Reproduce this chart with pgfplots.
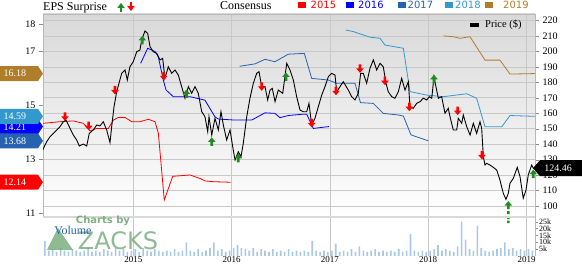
\documentclass[border=0pt]{standalone}
\usepackage{pgfplots}
\pgfplotsset{compat=1.18}
\usepackage{fontspec}
\setmainfont{Liberation Serif}
\newfontfamily\legfont{DejaVu Sans}
\definecolor{cA}{HTML}{FF0000}
\definecolor{cB}{HTML}{0000FF}
\definecolor{cC}{HTML}{2563B0}
\definecolor{cD}{HTML}{3399CC}
\definecolor{cE}{HTML}{B07D2B}
\definecolor{upg}{HTML}{1E8C1E}
\definecolor{vol}{HTML}{A9C8E8}
\definecolor{grd}{HTML}{C8C8C8}
\definecolor{zk}{HTML}{5E9E63}
\pgfdeclareplotmark{dnarr}{%
 \pgfpathmoveto{\pgfqpoint{-1.3pt}{5pt}}%
 \pgfpathlineto{\pgfqpoint{1.3pt}{5pt}}%
 \pgfpathlineto{\pgfqpoint{1.3pt}{1pt}}%
 \pgfpathlineto{\pgfqpoint{3.8pt}{1pt}}%
 \pgfpathlineto{\pgfqpoint{0pt}{-3.5pt}}%
 \pgfpathlineto{\pgfqpoint{-3.8pt}{1pt}}%
 \pgfpathlineto{\pgfqpoint{-1.3pt}{1pt}}%
 \pgfpathclose\pgfusepathqfill}
\pgfdeclareplotmark{uparr}{%
 \pgfpathmoveto{\pgfqpoint{-1.3pt}{-5pt}}%
 \pgfpathlineto{\pgfqpoint{1.3pt}{-5pt}}%
 \pgfpathlineto{\pgfqpoint{1.3pt}{-1pt}}%
 \pgfpathlineto{\pgfqpoint{3.8pt}{-1pt}}%
 \pgfpathlineto{\pgfqpoint{0pt}{3.5pt}}%
 \pgfpathlineto{\pgfqpoint{-3.8pt}{-1pt}}%
 \pgfpathlineto{\pgfqpoint{-1.3pt}{-1pt}}%
 \pgfpathclose\pgfusepathqfill}
\pgfdeclareplotmark{uparrdash}{%
 \pgfpathmoveto{\pgfqpoint{0pt}{0pt}}%
 \pgfpathlineto{\pgfqpoint{3.8pt}{-4.5pt}}%
 \pgfpathlineto{\pgfqpoint{-3.8pt}{-4.5pt}}%
 \pgfpathclose
 \pgfpathrectangle{\pgfqpoint{-1.3pt}{-8pt}}{\pgfqpoint{2.6pt}{3.5pt}}%
 \pgfpathrectangle{\pgfqpoint{-1.3pt}{-13pt}}{\pgfqpoint{2.6pt}{3pt}}%
 \pgfpathrectangle{\pgfqpoint{-1.3pt}{-18pt}}{\pgfqpoint{2.6pt}{3pt}}%
 \pgfpathrectangle{\pgfqpoint{-1.3pt}{-22pt}}{\pgfqpoint{2.6pt}{2.5pt}}%
 \pgfusepathqfill}
\pgfplotsset{base/.style={scale only axis, width=492pt, height=203pt, at={(43pt,47pt)}, anchor=south west, xmin=2014.0814, xmax=2019.0865, /pgf/number format/assume math mode=true}}
\begin{document}
\begin{tikzpicture}[x=1pt,y=1pt]
\useasboundingbox (0,0) rectangle (582,264);
% background, grid, price ticks
\begin{axis}[base, ymin=92.9, ymax=224.2,
 axis background/.style={top color=black!15, bottom color=white},
 axis line style={draw=black!28},
 ytick={100,110,...,220}, ytick pos=right, yticklabel pos=right,
 xtick={2015,2016,2017,2018,2019}, xticklabels={},
 xmajorgrids, ymajorgrids, major grid style={grd, line width=0.7pt},
 xtick style={draw=none}, ytick style={black!45},
 tick align=outside, major tick length=4pt,
 yticklabel style={font=\fontsize{10}{10}\selectfont}]
\end{axis}
% EPS consensus lines
\begin{axis}[base, ymin=10.848, ymax=18.394, axis x line=none, axis y line*=left,
 axis line style={draw=none}, ytick={11,13,15,17,18}, tick align=outside, major tick length=4pt,
 ytick style={black!45}, yticklabel style={font=\fontsize{10}{10}\selectfont}, clip mode=individual]
\addplot[cA, line width=0.8pt] coordinates {(2014.0814,14.33)(2014.254,14.39)(2014.390,14.42)(2014.491,14.33)(2014.560,14.05)(2014.628,14.14)(2014.746,14.14)(2014.797,14.45)(2014.848,14.55)(2014.916,14.55)(2014.984,14.39)(2015.068,14.39)(2015.153,14.48)(2015.221,14.39)(2015.255,13.96)(2015.315,11.48)(2015.401,12.36)(2015.577,12.41)(2015.679,12.28)(2015.729,12.19)(2015.814,12.16)(2015.991,12.14)};
\addplot[cB, line width=0.8pt] coordinates {(2015.075,16.56)(2015.146,17.12)(2015.221,17.00)(2015.254,16.81)(2015.305,15.94)(2015.333,15.57)(2015.407,15.32)(2015.577,15.32)(2015.729,15.19)(2015.831,14.57)(2015.865,14.49)(2016.035,14.45)(2016.204,14.45)(2016.340,14.72)(2016.441,14.70)(2016.492,14.54)(2016.577,14.62)(2016.729,14.67)(2016.764,14.67)(2016.831,14.14)(2016.991,14.21)};
\addplot[cC, line width=0.8pt] coordinates {(2016.081,16.45)(2016.238,16.54)(2016.340,16.71)(2016.441,16.62)(2016.577,16.90)(2016.740,16.93)(2016.815,16.00)(2016.984,15.94)(2017.069,15.82)(2017.255,15.82)(2017.311,15.10)(2017.442,15.07)(2017.543,14.70)(2017.696,14.64)(2017.747,14.60)(2017.825,13.90)(2018.001,13.68)};
\addplot[cD, line width=0.8pt] coordinates {(2017.161,17.80)(2017.238,17.74)(2017.408,17.53)(2017.510,17.49)(2017.560,17.24)(2017.747,17.12)(2017.815,15.51)(2017.985,15.38)(2018.154,15.32)(2018.392,15.43)(2018.493,15.26)(2018.578,14.20)(2018.748,14.20)(2018.832,14.62)(2019.0865,14.59)};
\addplot[cE, line width=0.8pt] coordinates {(2018.154,17.58)(2018.255,17.55)(2018.323,17.49)(2018.425,17.55)(2018.578,16.68)(2018.730,16.68)(2018.832,16.16)(2019.0865,16.18)};
\coordinate (tE) at (axis cs:2014.0814,16.18);
\coordinate (tD) at (axis cs:2014.0814,14.59);
\coordinate (tB) at (axis cs:2014.0814,14.21);
\coordinate (tC) at (axis cs:2014.0814,13.68);
\coordinate (tA) at (axis cs:2014.0814,12.14);
\end{axis}
% price line and surprises
\begin{axis}[base, ymin=92.9, ymax=224.2, hide axis]
\addplot[black, line width=0.9pt] coordinates {(2014.078,136.2)(2014.119,141.6)(2014.153,144.8)(2014.186,147.0)(2014.221,149.2)(2014.254,151.3)(2014.288,154.5)(2014.315,155.6)(2014.356,150.3)(2014.390,145.9)(2014.424,142.7)(2014.451,138.8)(2014.491,140.1)(2014.526,138.8)(2014.552,147.0)(2014.593,149.2)(2014.628,152.4)(2014.661,151.8)(2014.695,154.5)(2014.729,149.2)(2014.763,141.0)(2014.780,151.3)(2014.804,164.2)(2014.831,173.9)(2014.882,185.8)(2014.916,188.0)(2014.939,181.5)(2014.966,190.1)(2015.000,193.4)(2015.035,199.8)(2015.068,200.9)(2015.085,207.4)(2015.119,213.2)(2015.146,211.7)(2015.170,203.1)(2015.203,199.8)(2015.238,198.8)(2015.272,194.5)(2015.299,195.5)(2015.322,182.6)(2015.356,190.1)(2015.391,185.8)(2015.424,188.0)(2015.458,184.7)(2015.492,177.2)(2015.526,169.7)(2015.560,177.2)(2015.594,172.9)(2015.628,177.2)(2015.661,172.9)(2015.696,161.0)(2015.729,157.8)(2015.757,148.1)(2015.770,157.8)(2015.798,145.9)(2015.831,156.7)(2015.865,149.2)(2015.892,161.0)(2015.916,152.4)(2015.950,142.7)(2015.984,149.2)(2016.017,136.2)(2016.035,129.8)(2016.068,135.1)(2016.096,131.9)(2016.119,140.6)(2016.154,157.8)(2016.187,169.7)(2016.221,179.4)(2016.255,185.8)(2016.279,186.9)(2016.306,177.2)(2016.340,177.2)(2016.367,168.6)(2016.391,175.0)(2016.414,176.1)(2016.442,167.5)(2016.475,175.0)(2016.520,172.9)(2016.561,192.3)(2016.594,188.0)(2016.628,181.5)(2016.662,170.7)(2016.696,162.1)(2016.729,161.0)(2016.764,161.0)(2016.787,166.4)(2016.815,152.4)(2016.848,156.7)(2016.882,164.2)(2016.917,171.8)(2016.950,177.2)(2016.984,183.6)(2017.018,185.8)(2017.052,184.7)(2017.069,173.9)(2017.103,177.2)(2017.136,180.4)(2017.187,175.0)(2017.222,170.7)(2017.255,168.6)(2017.289,172.9)(2017.313,185.8)(2017.340,185.8)(2017.374,179.4)(2017.408,189.1)(2017.442,194.5)(2017.476,188.0)(2017.510,192.3)(2017.543,190.1)(2017.571,179.4)(2017.594,173.9)(2017.629,170.7)(2017.662,169.7)(2017.696,173.9)(2017.730,182.6)(2017.764,175.0)(2017.798,180.4)(2017.815,164.2)(2017.848,163.2)(2017.883,166.4)(2017.917,167.5)(2017.950,169.7)(2017.985,168.6)(2018.011,170.7)(2018.036,169.7)(2018.059,183.6)(2018.079,177.2)(2018.103,169.7)(2018.137,170.7)(2018.171,160.0)(2018.204,163.2)(2018.222,157.8)(2018.255,149.2)(2018.290,149.2)(2018.306,156.7)(2018.341,153.5)(2018.357,158.9)(2018.392,151.3)(2018.426,145.9)(2018.459,153.5)(2018.493,147.0)(2018.527,154.5)(2018.544,150.3)(2018.561,131.9)(2018.578,126.5)(2018.595,127.6)(2018.629,126.5)(2018.662,125.0)(2018.697,123.3)(2018.730,116.8)(2018.764,108.2)(2018.791,104.3)(2018.815,108.2)(2018.832,114.7)(2018.866,117.9)(2018.906,125.0)(2018.934,119.0)(2018.967,105.0)(2018.995,110.4)(2019.018,120.1)(2019.053,126.5)(2019.069,124.4)(2019.0865,124.46)};
\addplot[only marks, mark=dnarr, cA] coordinates {(2014.074,135.1)(2014.305,157.4)(2014.546,151.3)(2014.814,174.4)(2015.309,183.6)(2016.306,176.8)(2016.815,153.1)(2017.062,173.9)(2017.306,188.4)(2017.560,180.4)(2017.808,163.6)(2018.300,161.1)(2018.547,132.4)};
\addplot[only marks, mark=uparr, upg] coordinates {(2015.092,207.8)(2015.541,173.1)(2015.798,142.1)(2016.068,131.5)(2016.553,184.1)(2018.059,182.6)(2019.069,121.2)};
\addplot[only marks, mark=uparrdash, upg] coordinates {(2018.815,103.2)};
\coordinate (lastp) at (axis cs:2019.0865,124.46);
\end{axis}
% volume
\begin{axis}[scale only axis, width=492pt, height=39pt, at={(43pt,8pt)}, anchor=south west,
 xmin=2014.0814, xmax=2019.0865, ymin=0, ymax=28.4,
 axis x line*=bottom, axis y line*=right, x axis line style={draw=none}, y axis line style={draw=black!28},
 xtick={2015,2016,2017,2018,2019}, xticklabels={2015,2016,2017,2018,2019},
 xmajorgrids, major grid style={grd, line width=0.7pt}, xtick style={draw=none},
 xticklabel style={font=\fontsize{9}{9}\selectfont, inner sep=0pt, yshift=3pt},
 ytick={5,10,15,20,25}, yticklabels={5k,10k,15k,20k,25k}, ytick style={black!45},
 tick align=outside, major tick length=3pt,
 yticklabel style={font=\fontsize{8}{8}\selectfont, inner sep=1pt}]
\addplot[ybar, bar width=1.6pt, fill=vol, draw=none] coordinates {(2014.10,11)(2014.14,4)(2014.18,5)(2014.22,3)(2014.26,6)(2014.30,4)(2014.34,3)(2014.38,5)(2014.42,4)(2014.46,3)(2014.50,4)(2014.54,6)(2014.58,3)(2014.62,4)(2014.66,3)(2014.70,5)(2014.74,4)(2014.78,3)(2014.82,6)(2014.86,4)(2014.90,5)(2014.94,3)(2014.98,4)(2015.02,5)(2015.06,3)(2015.10,6)(2015.14,4)(2015.18,3)(2015.22,5)(2015.26,4)(2015.30,3)(2015.34,4)(2015.38,3)(2015.42,5)(2015.46,3)(2015.50,4)(2015.54,10)(2015.58,4)(2015.62,3)(2015.66,5)(2015.70,3)(2015.74,4)(2015.78,6)(2015.82,10)(2015.86,4)(2015.90,5)(2015.94,3)(2015.98,4)(2016.02,6)(2016.06,8)(2016.10,6)(2016.14,5)(2016.18,4)(2016.22,6)(2016.26,3)(2016.30,5)(2016.34,4)(2016.38,3)(2016.42,5)(2016.46,3)(2016.50,4)(2016.54,3)(2016.58,5)(2016.62,3)(2016.66,4)(2016.70,3)(2016.74,4)(2016.78,3)(2016.82,11)(2016.86,4)(2016.90,3)(2016.94,4)(2016.98,3)(2017.02,4)(2017.06,9)(2017.10,3)(2017.14,4)(2017.18,3)(2017.22,5)(2017.26,3)(2017.30,7)(2017.34,4)(2017.38,3)(2017.42,4)(2017.46,5)(2017.50,3)(2017.54,4)(2017.58,3)(2017.62,4)(2017.66,3)(2017.70,5)(2017.74,3)(2017.78,4)(2017.82,16)(2017.86,4)(2017.90,3)(2017.94,4)(2017.98,3)(2018.02,4)(2018.06,5)(2018.10,8)(2018.14,4)(2018.18,5)(2018.22,4)(2018.26,3)(2018.30,7)(2018.34,25)(2018.38,12)(2018.42,5)(2018.46,4)(2018.50,22)(2018.54,6)(2018.58,4)(2018.62,3)(2018.66,4)(2018.70,5)(2018.74,6)(2018.78,10)(2018.82,5)(2018.86,6)(2018.90,4)(2018.94,5)(2018.98,4)(2019.02,5)(2019.06,4)};
\draw[black!15, line width=2pt] (rel axis cs:0,1) -- (rel axis cs:1,1);
\end{axis}
% watermark and volume label
\fill[zk, opacity=0.7] (47,14) -- (73,14) -- (58,36) -- cycle;
\node[text=zk, opacity=0.8, font=\legfont\bfseries\fontsize{10}{10}\selectfont, inner sep=0] at (103,43) {Charts by};
\node[text=zk, opacity=0.7, font=\legfont\fontsize{24}{24}\selectfont, inner sep=0] at (118,23) {ZACKS};
\node[text=cC, font=\fontsize{12}{12}\selectfont, inner sep=0] at (73,34) {Volume};
% left tags
\fill[cB] (tB) -- ++(-5,7.5) -- ++(-38,0) -- ++(0,-15) -- ++(38,0) -- cycle;
\node[text=white, font=\fontsize{10}{10}\selectfont, inner sep=0] at ([xshift=-28pt,yshift=-1pt]tB) {14.21};
\fill[cD] (tD) -- ++(-5,7.5) -- ++(-38,0) -- ++(0,-15) -- ++(38,0) -- cycle;
\node[text=white, font=\fontsize{10}{10}\selectfont, inner sep=0] at ([xshift=-28pt]tD) {14.59};
\fill[cC] (tC) -- ++(-5,7.5) -- ++(-38,0) -- ++(0,-15) -- ++(38,0) -- cycle;
\node[text=white, font=\fontsize{10}{10}\selectfont, inner sep=0] at ([xshift=-28pt]tC) {13.68};
\fill[cE] (tE) -- ++(-5,7.5) -- ++(-38,0) -- ++(0,-15) -- ++(38,0) -- cycle;
\node[text=white, font=\fontsize{10}{10}\selectfont, inner sep=0] at ([xshift=-28pt]tE) {16.18};
\fill[cA] (tA) -- ++(-5,7.5) -- ++(-38,0) -- ++(0,-15) -- ++(38,0) -- cycle;
\node[text=white, font=\fontsize{10}{10}\selectfont, inner sep=0] at ([xshift=-28pt]tA) {12.14};
% last price tag
\fill[black] ([xshift=-2pt]lastp) -- ++(7,8) -- ++(42,0) -- ++(0,-16) -- ++(-42,0) -- cycle;
\node[text=white, font=\fontsize{10}{10}\selectfont, inner sep=0] at ([xshift=23pt]lastp) {124.46};
% top legend
\node[anchor=base west, font=\fontsize{12}{12}\selectfont, inner sep=0] at (43,253.5) {EPS Surprise};
\fill[upg] (119.7,252) rectangle (122.3,256);
\fill[upg] (117.2,256) -- (124.8,256) -- (121,261) -- cycle;
\fill[cA] (129.7,262) rectangle (132.3,258);
\fill[cA] (127.2,258) -- (134.8,258) -- (131,253) -- cycle;
\node[anchor=base west, font=\fontsize{12}{12}\selectfont, inner sep=0] at (220,254) {Consensus};
\fill[cA] (298,255.7) rectangle (306,262.3);
\node[anchor=base west, text=cA, font=\legfont\fontsize{10}{10}\selectfont, inner sep=0] at (310.5,255) {2015};
\fill[cB] (346,255.7) rectangle (354,262.3);
\node[anchor=base west, text=cB, font=\legfont\fontsize{10}{10}\selectfont, inner sep=0] at (358,255) {2016};
\fill[cC] (398,255.7) rectangle (406,262.3);
\node[anchor=base west, text=cC, font=\legfont\fontsize{10}{10}\selectfont, inner sep=0] at (407.5,255) {2017};
\fill[cD] (445,255.7) rectangle (453,262.3);
\node[anchor=base west, text=cD, font=\legfont\fontsize{10}{10}\selectfont, inner sep=0] at (455,255) {2018};
\fill[cE] (485,255.7) rectangle (493,262.3);
\node[anchor=base west, text=cE, font=\legfont\fontsize{10}{10}\selectfont, inner sep=0] at (503,255) {2019};
% price legend
\fill[black] (470,237.3) rectangle (479.3,240.7);
\node[anchor=base west, font=\fontsize{10.5}{10.5}\selectfont, inner sep=0] at (485,236) {Price (\$)};
\end{tikzpicture}
\end{document}
